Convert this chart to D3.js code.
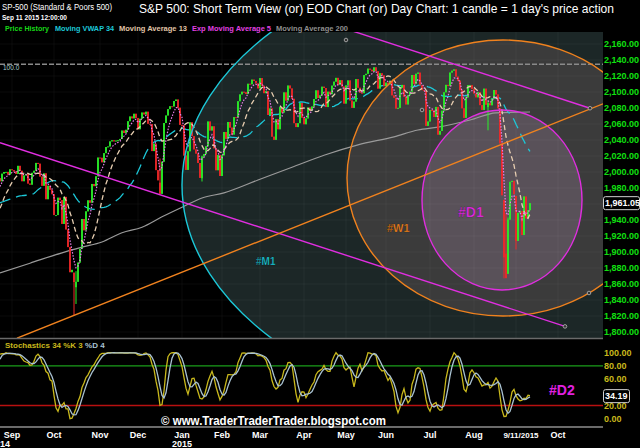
<!DOCTYPE html>
<html><head><meta charset="utf-8">
<script src="https://cdn.jsdelivr.net/npm/d3@7"></script>
<style>body{margin:0;background:#000}svg{display:block}text{font-family:"Liberation Sans",Arial,sans-serif}</style>
</head><body><svg id="c" width="640" height="448"></svg>
<script>
// ---------------- DATA ----------------
const holidays = ["2014-07-04","2014-09-01","2014-11-27","2014-12-25","2015-01-01","2015-01-19","2015-02-16","2015-04-03","2015-05-25","2015-07-03","2015-09-07"];
const firstDate = "2014-07-01";      // first close (warm-up for averages)
const axisEndDate = "2015-10-30";    // future axis room
const firstShown = "2014-08-22";
// daily closes, Jul 1 2014 .. Sep 11 2015
const closes = [
1973.32,1974.62,1985.44,1977.65,1963.71,1972.83,1964.68,1967.57,1977.10,1973.28,1981.57,1958.12,1978.22,1973.63,1983.53,1987.01,1987.98,1978.34,1978.91,1969.95,1970.07,1930.67,
1925.15,1938.99,1920.21,1920.24,1909.57,1931.59,1936.92,1933.75,1946.72,1955.18,1955.06,1971.74,1981.60,1986.51,1992.37,1988.40,1997.92,2000.02,2000.12,1996.74,2003.37,
2002.28,2000.72,1997.65,2007.71,2001.54,1988.44,1995.69,1997.45,1985.54,1984.13,1998.98,2001.57,2011.36,2010.40,1994.29,1982.77,1998.30,1965.99,1982.85,1977.80,1972.29,
1946.16,1946.17,1967.90,1964.82,1935.10,1968.89,1928.21,1906.13,1874.74,1877.70,1862.49,1862.76,1886.76,1904.01,1941.28,1927.11,1950.82,1964.58,1961.63,1985.05,1982.30,1994.65,2018.05,
2017.81,2012.10,2023.57,2031.21,2031.92,2038.26,2039.68,2038.25,2039.33,2039.82,2041.32,2051.80,2048.72,2052.75,2063.50,2069.41,2067.03,2072.83,2067.56,
2053.44,2066.55,2074.33,2071.92,2075.37,2060.31,2059.82,2026.14,2035.33,2002.33,1989.63,1972.74,2012.89,2061.23,2070.65,2078.54,2082.17,2081.88,2088.77,2090.57,2080.35,2058.90,
2058.20,2020.58,2002.61,2025.90,2062.14,2044.81,2028.26,2023.03,2011.27,1992.67,2019.42,2022.55,2032.12,2063.15,2051.82,2057.09,2029.55,2002.16,2021.25,1994.99,
2020.85,2050.03,2041.51,2062.52,2055.47,2046.74,2068.59,2068.53,2088.48,2096.99,2100.34,2099.68,2097.45,2110.30,2109.66,2115.48,2113.86,2110.74,2104.50,
2117.39,2107.78,2098.53,2101.04,2071.26,2079.43,2044.16,2040.24,2065.95,2053.40,2081.19,2074.28,2099.50,2089.27,2108.10,2104.42,2091.50,2061.05,2056.15,2061.02,2086.24,2067.89,
2059.69,2066.96,2080.62,2076.33,2081.90,2091.18,2102.06,2092.43,2095.84,2106.63,2104.99,2081.18,2100.40,2097.29,2107.96,2112.93,2117.69,2108.92,2114.76,2106.85,2085.51,
2108.29,2114.49,2089.46,2080.15,2088.00,2116.10,2105.33,2099.12,2098.48,2121.10,2122.73,2129.20,2127.83,2125.85,2130.82,2126.06,2104.20,2123.48,2120.79,2107.39,
2111.73,2109.60,2114.07,2095.84,2092.83,2079.28,2080.15,2105.20,2108.86,2094.11,2084.43,2096.29,2100.44,2121.24,2109.99,2122.85,2124.20,2108.58,2102.31,2101.49,2057.64,2063.11,
2077.42,2076.78,2068.76,2081.34,2046.68,2051.31,2076.62,2099.60,2108.95,2107.40,2124.29,2126.64,2128.28,2119.21,2114.15,2102.15,2079.65,2067.64,2093.25,2108.57,2108.63,2103.84,
2098.04,2093.32,2099.84,2083.56,2077.57,2104.18,2084.07,2086.05,2083.39,2091.54,2102.44,2096.92,2079.61,2035.73,1970.89,1893.21,1867.61,1940.51,1987.66,1988.87,1972.18,
1913.85,1948.86,1951.13,1921.22,1969.41,1942.04,1952.29,1961.05];
// notable intraday opens / highs / lows
const swingDates = ["2014-10-15","2014-10-16","2014-12-16","2015-01-16","2015-08-12","2015-08-24","2015-08-25","2015-08-26","2015-09-01"];
const swingOpen  = [1874.18,1855.95,1986.71,1992.25,2081.10,1965.15,1898.08,1872.75,1970.09];
const swingHigh  = [1874.18,1876.01,2016.89,2020.46,2089.06,1965.15,1948.04,1943.09,1970.09];
const swingLow   = [1820.66,1835.02,1972.56,1988.12,2052.09,1867.01,1867.08,1872.75,1903.07];
// 200-day moving average
const ma200Dates  = ["2014-08-22","2014-09-15","2014-10-07","2014-10-21","2014-11-04","2014-11-18","2014-12-03","2014-12-17","2015-01-02","2015-01-16","2015-02-03","2015-02-27","2015-03-24","2015-04-16","2015-05-11","2015-06-05","2015-06-23","2015-07-08","2015-07-30","2015-08-18","2015-09-11"];
const ma200Values = [1873.8,1886,1899,1906,1912.5,1924,1931,1944,1956,1967.5,1974,1990,2006,2021,2034,2044,2052.5,2056,2065,2074,2075];
const refLevel = 2134.72;          // dashed "100.0" line
const stochLabelValue = 34.19;
const priceTicks = d3.range(1800, 2161, 20);
const stochTicks = [0,20,40,60,80,100];
// drawing-tool shapes (centre bar offset from first shown candle, centre price, radii)
const shapeLabels = ["#M1","#W1","#D1"];
const shapeCenterBar = [291, 251.5, 251];
const shapeCenterPrice = [1983.75, 1992.5, 1965];
const shapeRadiusBars = [200, 78, 40];
const shapeRadiusPrice = [303.75, 172.5, 112.5];
const shapeLabelBar = [128, 193.5, 229];
const shapeLabelPrice = [1883.75, 1925, 1943.75];
const trendBars = [[0,282.5],[176.5,295],[8.5,301.5]];
const trendPrices = [[2036.6,1807],[2176,2079.7],[1792.25,2085.25]];
const handleBars = [173, 211, 294.5];
const handlePrices = [2165, 2077.5, 1848.75];
const d2Bar = 274.5, d2Level = 35.9;

// ---------------- SETUP ----------------
function tradingDates(from, to, hol) {
  const out = [], hs = new Set(hol);
  let d = new Date(from + "T00:00:00Z"); const end = new Date(to + "T00:00:00Z");
  while (d <= end) {
    const wd = d.getUTCDay(), s = d.toISOString().slice(0, 10);
    if (wd !== 0 && wd !== 6 && !hs.has(s)) out.push(s);
    d = new Date(d.getTime() + 86400000);
  }
  return out;
}
const dates = tradingDates(firstDate, axisEndDate, holidays);
const n = closes.length;
const s0 = dates.indexOf(firstShown);
const last = n - 1;
const svg = d3.select("#c");

const x = d3.scaleLinear().domain([s0 + 6, last]).range([12, 530]);
const y = d3.scaleLinear().domain([1800, 2160]).range([332, 44]);
const ys = d3.scaleLinear().domain([0, 100]).range([418.7, 352.7]);
const PR = 603;
const bx = b => x(s0 + b);

// OHLC
const sw = new Map(swingDates.map((d, i) => [d, i]));
const ohlc = closes.map((c, g) => {
  const k = sw.get(dates[g]);
  const o = k !== undefined ? swingOpen[k] : (g > 0 ? closes[g - 1] : c);
  const h = k !== undefined ? swingHigh[k] : Math.max(o, c);
  const l = k !== undefined ? swingLow[k] : Math.min(o, c);
  return {g, o, h, l, c};
});
// indicators
function sma(p) { return closes.map((c, g) => g < p - 1 ? null : d3.mean(closes.slice(g - p + 1, g + 1))); }
const ma13 = sma(13);
const vwap34 = sma(34); // volume not available: price average stands in for VWAP
const ema5 = []; closes.forEach((c, g) => ema5.push(g === 0 ? c : ema5[g - 1] + (c - ema5[g - 1]) / 3));
const rawK = ohlc.map((d, g) => {
  const w = ohlc.slice(Math.max(0, g - 33), g + 1);
  const hh = d3.max(w, e => e.h), ll = d3.min(w, e => e.l);
  return hh === ll ? 50 : 100 * (d.c - ll) / (hh - ll);
});
const slowK = rawK.map((v, g) => d3.mean(rawK.slice(Math.max(0, g - 2), g + 1)));
const pctD = slowK.map((v, g) => d3.mean(slowK.slice(Math.max(0, g - 3), g + 1)));

// clips
const defs = svg.append("defs");
defs.append("clipPath").attr("id", "cm").append("rect").attr("x", 0).attr("y", 32).attr("width", PR).attr("height", 306);
defs.append("clipPath").attr("id", "cs").append("rect").attr("x", 0).attr("y", 340).attr("width", PR).attr("height", 86);

const main = svg.append("g").attr("clip-path", "url(#cm)");
const shapeStroke = ["#1cc8d8", "#f0821e", "#e02ee0"];
const shapeFill = ["#1c2727", "#3b3b3b", "#595159"];
shapeLabels.forEach((lab, i) => {
  const cx = bx(shapeCenterBar[i]), cy = y(shapeCenterPrice[i]);
  main.append("ellipse").attr("cx", cx).attr("cy", cy)
    .attr("rx", bx(shapeCenterBar[i] + shapeRadiusBars[i]) - cx)
    .attr("ry", y(shapeCenterPrice[i] - shapeRadiusPrice[i]) - cy)
    .attr("fill", shapeFill[i]);
});
// grid
main.append("g").selectAll("line").data(priceTicks).join("line")
  .attr("x1", 0).attr("x2", PR).attr("y1", d => y(d)).attr("y2", d => y(d))
  .attr("stroke", "rgba(255,255,255,0.04)");
// month ticks
const monthIdx = [];
for (let g = s0 + 1; g < dates.length; g++) {
  if (dates[g].slice(5, 7) !== dates[g - 1].slice(5, 7) && x(g) < 590) monthIdx.push(g);
}
main.append("g").selectAll("line").data(monthIdx).join("line")
  .attr("x1", d => x(d)).attr("x2", d => x(d)).attr("y1", 32).attr("y2", 338)
  .attr("stroke", "rgba(255,255,255,0.04)");
// reference dashed level
main.append("line").attr("x1", 0).attr("x2", PR).attr("y1", y(refLevel)).attr("y2", y(refLevel))
  .attr("stroke", "#8a8a8a").attr("stroke-width", 1.5).attr("stroke-dasharray", "5,2");

// MA200
const ma200Idx = ma200Dates.map(d => dates.indexOf(d));
main.append("path").datum(ma200Idx.map((g, i) => [x(g), y(ma200Values[i])]))
  .attr("d", d3.line().curve(d3.curveMonotoneX)).attr("fill", "none").attr("stroke", "#9a9a9a").attr("stroke-width", 1.2);
const shownIdx = d3.range(s0, n);
function seriesPath(arr, color, dash, w) {
  main.append("path").datum(shownIdx.filter(g => arr[g] != null))
    .attr("d", d3.line().x(g => x(g)).y(g => y(arr[g])))
    .attr("fill", "none").attr("stroke", color).attr("stroke-width", w).attr("stroke-dasharray", dash);
}
seriesPath(vwap34, "#1cc8d8", "11,6", 1.3);
// candles
const cg = main.append("g");
const candles = ohlc.slice(s0);
cg.selectAll("line").data(candles).join("line")
  .attr("x1", d => x(d.g)).attr("x2", d => x(d.g)).attr("y1", d => y(d.h)).attr("y2", d => y(d.l))
  .attr("stroke", d => d.c >= d.o ? "#2af02a" : "#f02828").attr("stroke-width", 1);
cg.selectAll("rect").data(candles).join("rect")
  .attr("x", d => x(d.g) - 0.85).attr("width", 1.7)
  .attr("y", d => y(Math.max(d.o, d.c)))
  .attr("height", d => Math.max(1, y(Math.min(d.o, d.c)) - y(Math.max(d.o, d.c))))
  .attr("fill", d => d.c >= d.o ? "#2af02a" : "#f02828");
seriesPath(ma13, "#e6cdb0", "5,3", 1.3);
seriesPath(ema5, "#e87ce8", "1.5,1.5", 1.2);
// shape outlines
shapeLabels.forEach((lab, i) => {
  const cx = bx(shapeCenterBar[i]), cy = y(shapeCenterPrice[i]);
  main.append("ellipse").attr("cx", cx).attr("cy", cy)
    .attr("rx", bx(shapeCenterBar[i] + shapeRadiusBars[i]) - cx)
    .attr("ry", y(shapeCenterPrice[i] - shapeRadiusPrice[i]) - cy)
    .attr("fill", "none").attr("stroke", shapeStroke[i]).attr("stroke-width", 1.4);
});
// trend lines
const trendColors = ["#e02ee0", "#e02ee0", "#f0821e"];
trendBars.forEach((tb, i) => {
  main.append("line").attr("x1", bx(tb[0])).attr("y1", y(trendPrices[i][0]))
    .attr("x2", bx(tb[1])).attr("y2", y(trendPrices[i][1]))
    .attr("stroke", trendColors[i]).attr("stroke-width", 1.4);
});
// handles
const hp = [[bx(trendBars[0][1]), y(trendPrices[0][1])], [bx(trendBars[1][1]), y(trendPrices[1][1])]]
  .concat(handleBars.map((b, i) => [bx(b), y(handlePrices[i])]));
main.append("g").selectAll("circle").data(hp).join("circle")
  .attr("cx", d => d[0]).attr("cy", d => d[1]).attr("r", 1.8)
  .attr("fill", "#333").attr("stroke", "#aaa").attr("stroke-width", 0.9);
// shape labels
const labelSize = [10, 11, 14];
shapeLabels.forEach((lab, i) => {
  main.append("text").attr("x", bx(shapeLabelBar[i])).attr("y", y(shapeLabelPrice[i]))
    .attr("font-size", labelSize[i]).attr("font-weight", "bold").attr("fill", shapeStroke[i])
    .attr("stroke", "rgba(0,0,0,0.35)").attr("stroke-width", 0.6).text(lab);
});
main.append("text").attr("x", 3).attr("y", y(refLevel) + 6).attr("font-size", 6.5).attr("fill", "#a8d0d0").text("100.0");

// panel borders
svg.append("line").attr("x1", 0).attr("x2", PR).attr("y1", 338.5).attr("y2", 338.5).attr("stroke", "#6a6a6a").attr("stroke-width", 1.5);
svg.append("line").attr("x1", 0).attr("x2", PR).attr("y1", 427).attr("y2", 427).attr("stroke", "#6a6a6a").attr("stroke-width", 2);

// price axis
const fmt = d3.format(",.2f");
const ya = svg.append("g").attr("transform", `translate(${PR},0)`)
  .call(d3.axisRight(y).tickValues(priceTicks).tickSize(0).tickPadding(1).tickFormat(fmt));
ya.select(".domain").remove();
ya.selectAll("text").attr("fill", "#10e010").attr("font-size", 9).attr("font-weight", "bold").attr("font-family", "Liberation Sans, Arial");
const lp = y(closes[last]);
svg.append("rect").attr("x", 603.5).attr("y", lp - 6.5).attr("width", 36).attr("height", 13).attr("rx", 2)
  .attr("fill", "#000").attr("stroke", "#d0d0d0");
svg.append("text").attr("x", 605).attr("y", lp + 3.3).attr("font-size", 9).attr("font-weight", "bold").attr("fill", "#fff").text(fmt(closes[last]));

// stochastics panel
const st = svg.append("g").attr("clip-path", "url(#cs)");
st.append("line").attr("x1", 0).attr("x2", PR).attr("y1", ys(80)).attr("y2", ys(80)).attr("stroke", "#1a9e1a").attr("stroke-width", 1.3);
st.append("line").attr("x1", 0).attr("x2", PR).attr("y1", ys(20)).attr("y2", ys(20)).attr("stroke", "#b81010").attr("stroke-width", 1.3);
const sline = arr => d3.line().x(g => x(g)).y(g => ys(arr[g]));
st.append("path").datum(shownIdx).attr("d", sline(slowK)).attr("fill", "none").attr("stroke", "#c8b81c").attr("stroke-width", 1.3);
st.append("path").datum(shownIdx).attr("d", sline(pctD)).attr("fill", "none").attr("stroke", "#a9c2d2").attr("stroke-width", 1.3);
svg.append("text").attr("x", 5).attr("y", 347.5).attr("font-size", 8).attr("font-weight", "bold")
  .call(t => { t.append("tspan").attr("fill", "#c8b81c").text("Stochastics 34 %K 3  "); t.append("tspan").attr("fill", "#a9c2d2").text("%D 4"); });
const sa = svg.append("g").attr("transform", `translate(${PR},0)`)
  .call(d3.axisRight(ys).tickValues(stochTicks).tickSize(0).tickPadding(1).tickFormat(d3.format(".2f")));
sa.select(".domain").remove();
sa.selectAll("text").attr("fill", "#c8b81c").attr("font-size", 9).attr("font-weight", "bold").attr("font-family", "Liberation Sans, Arial");
const sp = ys(stochLabelValue);
svg.append("rect").attr("x", 603.5).attr("y", sp - 6.5).attr("width", 26).attr("height", 13).attr("rx", 2).attr("fill", "#000").attr("stroke", "#d0d0d0");
svg.append("text").attr("x", 605).attr("y", sp + 3.3).attr("font-size", 9).attr("font-weight", "bold").attr("fill", "#fff").text(d3.format(".2f")(stochLabelValue));
svg.append("text").attr("x", bx(d2Bar)).attr("y", ys(d2Level)).attr("font-size", 14).attr("font-weight", "bold").attr("fill", "#e020e0").text("#D2");
svg.append("text").attr("x", 161).attr("y", 425).attr("font-size", 13).attr("font-weight", "bold").attr("fill", "#fff")
  .attr("textLength", 225).attr("lengthAdjust", "spacingAndGlyphs").text("© www.TraderTraderTrader.blogspot.com");

// x axis
const mfmt = d3.utcFormat("%b");
const lastMonth = dates[last].slice(0, 7);
const mt = monthIdx.filter(g => dates[g].slice(0, 7) !== lastMonth);
svg.append("g").selectAll("text").data(mt).join("text")
  .attr("x", g => x(g)).attr("y", 438).attr("text-anchor", "middle").attr("font-size", 9).attr("font-weight", "bold").attr("fill", "#fff")
  .text(g => mfmt(new Date(dates[g] + "T00:00:00Z")));
const yearIdx = [s0, monthIdx.find(g => dates[g].slice(5, 7) === "01")];
svg.append("g").selectAll("text").data(yearIdx).join("text")
  .attr("x", g => x(g)).attr("y", 447).attr("text-anchor", "middle").attr("font-size", 9).attr("font-weight", "bold").attr("fill", "#fff")
  .text(g => dates[g].slice(0, 4));
const ld = dates[last].split("-");
svg.append("text").attr("x", x(last) - 9).attr("y", 438).attr("text-anchor", "middle").attr("font-size", 8).attr("font-weight", "bold").attr("fill", "#fff")
  .text(`${+ld[1]}/${+ld[2]}/${ld[0]}`);

// header
svg.append("text").attr("x", 2).attr("y", 10).attr("font-size", 8.5).attr("fill", "#fff").attr("textLength", 110).attr("lengthAdjust", "spacingAndGlyphs").text("SP-500 (Standard & Poors 500)");
svg.append("text").attr("x", 2).attr("y", 19.5).attr("font-size", 7).attr("font-weight", "bold").attr("fill", "#fff").attr("textLength", 65).attr("lengthAdjust", "spacingAndGlyphs").text("Sep 11 2015 12:00:00");
svg.append("text").attr("x", 139).attr("y", 13).attr("font-size", 13.5).attr("fill", "#fff").attr("textLength", 475).attr("lengthAdjust", "spacingAndGlyphs")
  .text("S&P 500: Short Term View (or) EOD Chart (or) Day Chart: 1 candle = 1 day's price action");
const legText = ["Price History", "Moving VWAP 34", "Moving Average 13", "Exp Moving Average 5", "Moving Average 200"];
const legColor = ["#18d818", "#1cc8d8", "#e0c4a6", "#e040e0", "#8e8e8e"];
const legX = [5, 55, 119, 192, 276];
const legW = [44, 59, 68, 79, 72];
legText.forEach((t, i) => svg.append("text").attr("x", legX[i]).attr("y", 31).attr("font-size", 8).attr("font-weight", "bold")
  .attr("fill", legColor[i]).attr("textLength", legW[i]).attr("lengthAdjust", "spacingAndGlyphs").text(t));
</script></body></html>
